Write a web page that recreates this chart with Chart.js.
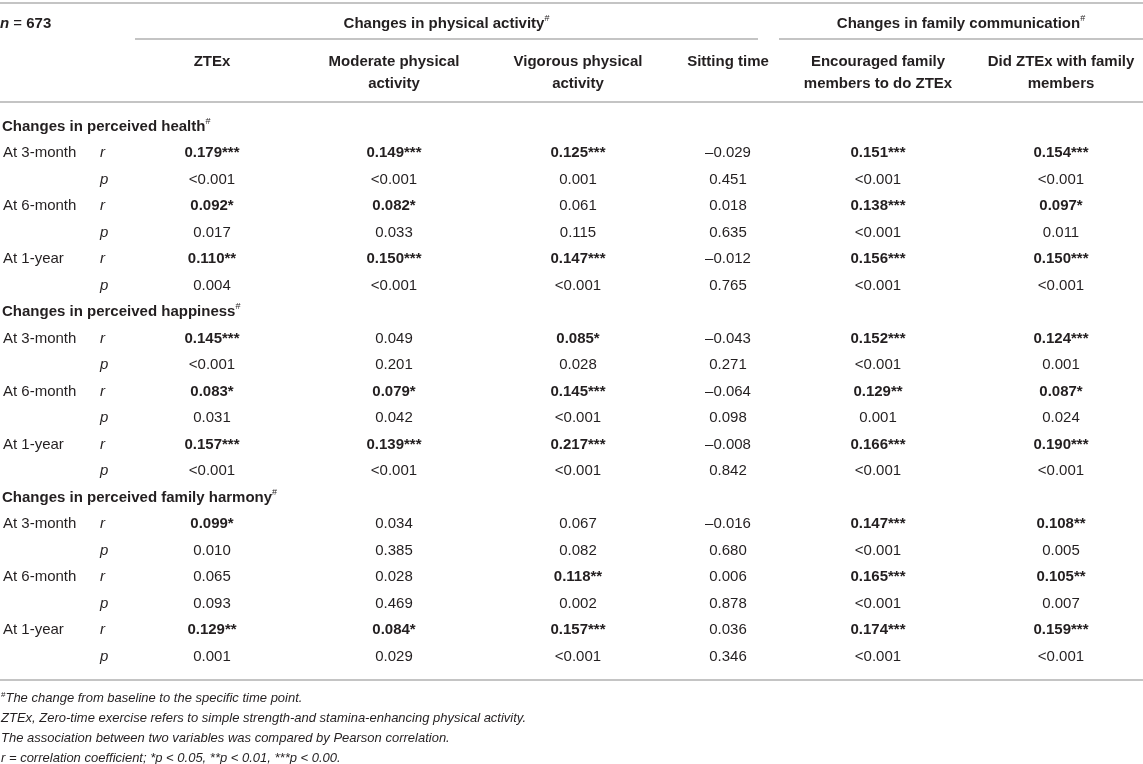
<!DOCTYPE html>
<html>
<head>
<meta charset="utf-8">
<script src="https://cdn.jsdelivr.net/npm/chart.js@4.4.1/dist/chart.umd.min.js"></script>
<style>
  html, body { margin: 0; padding: 0; background: #fff; }
</style>
</head>
<body>
<canvas id="corrTable" width="1143" height="764"></canvas>
<script>
// ---- table content ----
const sampleSize = "673";
const groupHeaders = ["Changes in physical activity", "Changes in family communication"];
const columnHeaders = [
  ["ZTEx"],
  ["Moderate physical", "activity"],
  ["Vigorous physical", "activity"],
  ["Sitting time"],
  ["Encouraged family", "members to do ZTEx"],
  ["Did ZTEx with family", "members"]
];
const outcomes = ["Changes in perceived health", "Changes in perceived happiness", "Changes in perceived family harmony"];
const timepoints = ["At 3-month", "At 6-month", "At 1-year"];

// r (stars as printed) and p per time point, columns in the order above
const healthR = [
  ["0.179***", "0.149***", "0.125***", "–0.029", "0.151***", "0.154***"],
  ["0.092*", "0.082*", "0.061", "0.018", "0.138***", "0.097*"],
  ["0.110**", "0.150***", "0.147***", "–0.012", "0.156***", "0.150***"]
];
const healthP = [
  ["<0.001", "<0.001", "0.001", "0.451", "<0.001", "<0.001"],
  ["0.017", "0.033", "0.115", "0.635", "<0.001", "0.011"],
  ["0.004", "<0.001", "<0.001", "0.765", "<0.001", "<0.001"]
];
const happinessR = [
  ["0.145***", "0.049", "0.085*", "–0.043", "0.152***", "0.124***"],
  ["0.083*", "0.079*", "0.145***", "–0.064", "0.129**", "0.087*"],
  ["0.157***", "0.139***", "0.217***", "–0.008", "0.166***", "0.190***"]
];
const happinessP = [
  ["<0.001", "0.201", "0.028", "0.271", "<0.001", "0.001"],
  ["0.031", "0.042", "<0.001", "0.098", "0.001", "0.024"],
  ["<0.001", "<0.001", "<0.001", "0.842", "<0.001", "<0.001"]
];
const harmonyR = [
  ["0.099*", "0.034", "0.067", "–0.016", "0.147***", "0.108**"],
  ["0.065", "0.028", "0.118**", "0.006", "0.165***", "0.105**"],
  ["0.129**", "0.084*", "0.157***", "0.036", "0.174***", "0.159***"]
];
const harmonyP = [
  ["0.010", "0.385", "0.082", "0.680", "<0.001", "0.005"],
  ["0.093", "0.469", "0.002", "0.878", "<0.001", "0.007"],
  ["0.001", "0.029", "<0.001", "0.346", "<0.001", "<0.001"]
];
const footnotes = [
  "The change from baseline to the specific time point.",
  "ZTEx, Zero-time exercise refers to simple strength-and stamina-enhancing physical activity.",
  "The association between two variables was compared by Pearson correlation.",
  "r = correlation coefficient; *p < 0.05, **p < 0.01, ***p < 0.00."
];

const rBlocks = [healthR, happinessR, harmonyR];
const pBlocks = [healthP, happinessP, harmonyP];

// ---- layout ----
const W = 1143, H = 764;
const ROW = 26.5, TOP = 125;          // body row pitch, first body row centre
const colX = [212, 394, 578, 728, 878, 1061];
const groupSpan = [[135, 758], [779, 1143]];
const statX = 100;
// vertical positions in row units (0 = first body row)
const yTopRule = -4.62, yGroup = -3.89, yGroupRule = -3.25,
      yHead1 = -2.45, yHead2 = -1.62, yHeadRule = -0.87, yBottomRule = 20.94;
const yNotes = [21.58, 22.34, 23.09, 23.85];
const TEXT_NUDGE = 1.5;               // px, optical centring of caps

const FAM = '"Liberation Sans", Arial, Helvetica, sans-serif';
const F = {
  reg: '15px ' + FAM,
  bold: 'bold 15px ' + FAM,
  ital: 'italic 15px ' + FAM,
  boldItal: 'italic bold 15px ' + FAM,
  note: 'italic 13px ' + FAM,
  sup: '9px ' + FAM
};
const INK = '#231f20';
const RULE = '#c4c4c4';

function runs(ctx, parts, x, y, align) {
  let w = 0;
  parts.forEach(p => { ctx.font = p.f; w += ctx.measureText(p.t).width; });
  let cx = align === 'center' ? x - w / 2 : x;
  ctx.textAlign = 'left';
  parts.forEach(p => {
    ctx.font = p.f;
    ctx.fillText(p.t, cx, y + TEXT_NUDGE + (p.dy || 0));
    cx += ctx.measureText(p.t).width;
  });
}

const tablePlugin = {
  id: 'tablePlugin',
  afterDraw(chart) {
    const ctx = chart.ctx;
    const sx = chart.scales.x, sy = chart.scales.y;
    const X = v => sx.getPixelForValue(v);
    const Y = v => sy.getPixelForValue(v);
    ctx.save();
    ctx.fillStyle = INK;
    ctx.textBaseline = 'middle';

    // rules
    ctx.strokeStyle = RULE;
    ctx.lineWidth = 2;
    const hline = (a, b, yv) => {
      ctx.beginPath();
      ctx.moveTo(X(a), Math.round(Y(yv)));
      ctx.lineTo(X(b), Math.round(Y(yv)));
      ctx.stroke();
    };
    hline(0, W, yTopRule);
    groupSpan.forEach(s => hline(s[0], s[1], yGroupRule));
    hline(0, W, yHeadRule);
    hline(0, W, yBottomRule);

    // header
    runs(ctx, [{ t: 'n', f: F.boldItal }, { t: ' = ', f: F.reg }, { t: sampleSize, f: F.bold }], X(0), Y(yGroup), 'left');
    groupHeaders.forEach((g, i) => {
      const mid = (groupSpan[i][0] + groupSpan[i][1]) / 2;
      runs(ctx, [{ t: g, f: F.bold }, { t: '#', f: F.sup, dy: -5 }], X(mid), Y(yGroup), 'center');
    });
    columnHeaders.forEach((lines, j) => {
      lines.forEach((ln, k) => {
        runs(ctx, [{ t: ln, f: F.bold }], X(colX[j]), Y(k === 0 ? yHead1 : yHead2), 'center');
      });
    });

    // body
    outcomes.forEach((o, b) => {
      const base = b * 7;
      runs(ctx, [{ t: o, f: F.bold }, { t: '#', f: F.sup, dy: -5 }], X(2), Y(base), 'left');
      timepoints.forEach((tp, t) => {
        const rr = base + 1 + 2 * t, pr = rr + 1;
        runs(ctx, [{ t: tp, f: F.reg }], X(3), Y(rr), 'left');
        runs(ctx, [{ t: 'r', f: F.ital }], X(statX), Y(rr), 'left');
        runs(ctx, [{ t: 'p', f: F.ital }], X(statX), Y(pr), 'left');
        rBlocks[b][t].forEach((v, j) => {
          runs(ctx, [{ t: v, f: v.includes('*') ? F.bold : F.reg }], X(colX[j]), Y(rr), 'center');
        });
        pBlocks[b][t].forEach((v, j) => {
          runs(ctx, [{ t: v, f: F.reg }], X(colX[j]), Y(pr), 'center');
        });
      });
    });

    // footnotes
    runs(ctx, [{ t: '#', f: '8px ' + FAM, dy: -4 }, { t: footnotes[0], f: F.note }], X(1), Y(yNotes[0]), 'left');
    for (let i = 1; i < footnotes.length; i++) {
      runs(ctx, [{ t: footnotes[i], f: F.note }], X(1), Y(yNotes[i]), 'left');
    }
    ctx.restore();
  }
};

new Chart(document.getElementById('corrTable'), {
  type: 'scatter',
  data: { datasets: [{ data: [], pointRadius: 0 }] },
  options: {
    responsive: false,
    animation: false,
    devicePixelRatio: 1,
    layout: { padding: 0 },
    plugins: { legend: { display: false }, tooltip: { enabled: false } },
    scales: {
      x: { type: 'linear', min: 0, max: W, display: false },
      y: { type: 'linear', min: -TOP / ROW, max: (H - TOP) / ROW, reverse: true, display: false }
    }
  },
  plugins: [tablePlugin]
});
</script>
</body>
</html>
